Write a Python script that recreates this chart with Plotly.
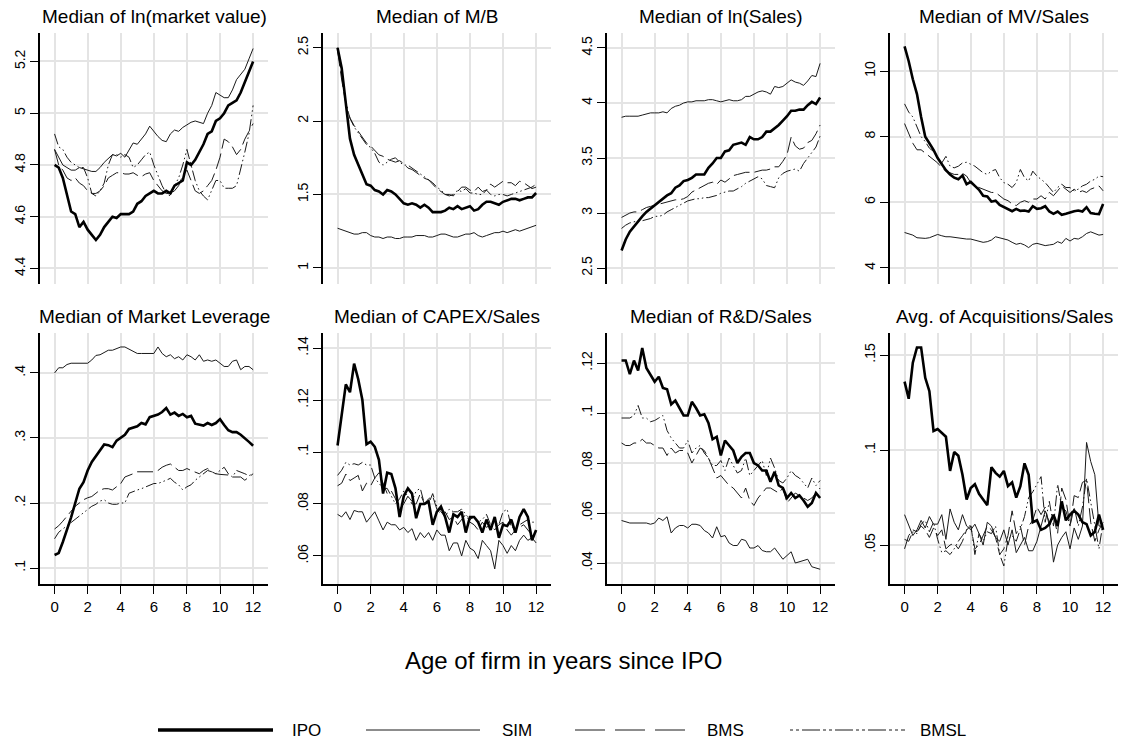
import numpy as np
import plotly.graph_objects as go

W, H = 1122, 744
FONT = "Liberation Sans, Arial, sans-serif"

ages = np.arange(0, 12.001, 0.25)
age_ticks = [0, 2, 4, 6, 8, 10, 12]
age_tick_labels = ["0", "2", "4", "6", "8", "10", "12"]
series_names = ["IPO", "SIM", "BMS", "BMSL"]

titles = ["Median of ln(market value)", "Median of M/B", "Median of ln(Sales)", "Median of MV/Sales",
          "Median of Market Leverage", "Median of CAPEX/Sales", "Median of R&D/Sales",
          "Avg. of Acquisitions/Sales"]

# ---- Panel 1: ln(market value)
mv_ipo = [4.80,4.79,4.75,4.68,4.62,4.61,4.56,4.58,4.55,4.53, 4.51,4.53,4.56,4.58,4.60,4.595,4.61,4.61,4.61,4.62,
          4.65,4.66,4.68,4.69,4.70,4.69,4.69,4.70,4.69,4.72, 4.73,4.74,4.81,4.80,4.82,4.85,4.88,4.92,4.93,4.97,
          4.98,5.00,5.03,5.04,5.05,5.08,5.12,5.16,5.20]
mv_sim = [4.86,4.83,4.80,4.79,4.78,4.78,4.79,4.785,4.78,4.775, 4.775,4.79,4.81,4.825,4.84,4.835,4.845,4.83,4.86,4.885,
          4.88,4.90,4.92,4.95,4.93,4.91,4.895,4.89,4.92,4.935, 4.93,4.945,4.955,4.965,4.97,4.965,4.96,5.00,5.03,5.08,
          5.07,5.06,5.06,5.09,5.13,5.15,5.17,5.21,5.25]
mv_bms = [4.86,4.80,4.78,4.75,4.74,4.75,4.73,4.72,4.70,4.69, 4.69,4.70,4.72,4.75,4.76,4.77,4.77,4.765,4.765,4.77,
          4.76,4.755,4.765,4.77,4.74,4.72,4.70,4.69,4.69,4.70, 4.72,4.76,4.78,4.74,4.70,4.69,4.70,4.72,4.74,4.78,
          4.83,4.90,4.89,4.87,4.84,4.86,4.90,4.93,4.96]
mv_bmsl = [4.92,4.87,4.86,4.83,4.81,4.80,4.79,4.79,4.75,4.69, 4.68,4.70,4.73,4.80,4.84,4.84,4.83,4.84,4.83,4.79,
           4.80,4.82,4.84,4.85,4.80,4.76,4.72,4.69,4.68,4.72, 4.75,4.80,4.86,4.80,4.74,4.70,4.68,4.665,4.70,4.74,
           4.74,4.71,4.71,4.71,4.72,4.78,4.85,4.92,5.03]

# ---- Panel 2: M/B
mb_ipo = [2.50,2.36,2.12,1.88,1.77,1.70,1.64,1.57,1.56,1.53, 1.52,1.50,1.53,1.52,1.50,1.47,1.44,1.43,1.44,1.43,
          1.41,1.43,1.41,1.38,1.38,1.38,1.39,1.41,1.40,1.42, 1.40,1.41,1.42,1.39,1.40,1.43,1.45,1.45,1.44,1.43,
          1.45,1.46,1.47,1.47,1.46,1.47,1.48,1.48,1.51]
mb_sim = [1.27,1.26,1.25,1.24,1.23,1.23,1.24,1.24,1.22,1.21, 1.21,1.20,1.21,1.21,1.20,1.20,1.21,1.21,1.21,1.22,
          1.22,1.22,1.21,1.21,1.22,1.23,1.23,1.22,1.21,1.21, 1.22,1.23,1.23,1.24,1.22,1.21,1.22,1.23,1.24,1.24,
          1.25,1.24,1.25,1.26,1.25,1.26,1.27,1.28,1.29]
mb_bms = [2.48,2.28,2.12,2.02,1.97,1.93,1.89,1.85,1.83,1.80, 1.77,1.76,1.74,1.73,1.72,1.73,1.71,1.68,1.67,1.65,
          1.63,1.61,1.60,1.57,1.54,1.52,1.50,1.49,1.50,1.52, 1.55,1.55,1.53,1.52,1.55,1.52,1.53,1.57,1.55,1.57,
          1.59,1.58,1.58,1.56,1.59,1.58,1.56,1.54,1.55]
mb_bmsl = [2.50,2.30,2.13,2.02,1.96,1.92,1.88,1.84,1.82,1.78, 1.72,1.70,1.72,1.74,1.75,1.72,1.70,1.70,1.68,1.66,
           1.64,1.62,1.60,1.58,1.55,1.53,1.50,1.50,1.49,1.53, 1.52,1.54,1.51,1.51,1.50,1.50,1.53,1.50,1.49,1.50,
           1.50,1.49,1.50,1.51,1.52,1.53,1.54,1.55,1.57]

# ---- Panel 3: ln(Sales)
ls_ipo = [2.66,2.76,2.83,2.88,2.93,2.97,3.01,3.04,3.07,3.10, 3.13,3.16,3.18,3.23,3.25,3.29,3.30,3.32,3.35,3.35,
          3.35,3.41,3.45,3.50,3.50,3.56,3.57,3.62,3.63,3.64, 3.62,3.69,3.67,3.67,3.69,3.74,3.74,3.77,3.80,3.84,
          3.88,3.93,3.93,3.94,3.94,3.98,4.01,3.99,4.05]
ls_sim = [3.87,3.88,3.88,3.88,3.88,3.89,3.90,3.91,3.91,3.91, 3.92,3.91,3.95,3.97,3.98,4.00,4.01,4.01,4.02,4.02,
          4.02,4.03,4.03,4.02,4.01,4.02,4.03,4.02,4.02,4.03, 4.06,4.06,4.08,4.10,4.11,4.10,4.08,4.15,4.14,4.15,
          4.18,4.21,4.19,4.18,4.16,4.20,4.25,4.24,4.36]
ls_bms = [2.96,2.98,3.00,3.01,3.01,3.03,3.05,3.06,3.07,3.08, 3.09,3.10,3.11,3.12,3.12,3.13,3.15,3.19,3.21,3.23,
          3.25,3.27,3.28,3.26,3.30,3.28,3.31,3.34,3.35,3.36, 3.37,3.37,3.37,3.38,3.39,3.39,3.40,3.42,3.42,3.47,
          3.53,3.69,3.61,3.58,3.59,3.64,3.66,3.72,3.80]
ls_bmsl = [2.86,2.89,2.91,2.92,2.93,2.93,2.94,2.95,2.97,2.97, 2.98,3.01,3.03,3.05,3.07,3.09,3.11,3.12,3.13,3.13,
           3.14,3.14,3.15,3.16,3.18,3.19,3.20,3.20,3.22,3.24, 3.27,3.29,3.31,3.33,3.31,3.25,3.24,3.23,3.32,3.36,
           3.38,3.39,3.40,3.38,3.45,3.50,3.55,3.60,3.70]

# ---- Panel 4: MV/Sales
mvs_ipo = [10.75,10.3,9.75,9.3,8.6,8.0,7.8,7.6,7.35,7.15, 6.98,6.85,6.75,6.7,6.82,6.55,6.62,6.5,6.38,6.2,
           6.18,6.02,6.05,5.92,5.85,5.78,5.73,5.8,5.74,5.75, 5.72,5.88,5.8,5.82,5.88,5.72,5.65,5.72,5.62,5.65,
           5.7,5.73,5.75,5.72,5.85,5.67,5.65,5.64,5.95]
mvs_sim = [5.08,5.05,5.0,4.92,4.9,4.9,4.92,4.98,5.02,4.98, 4.95,4.95,4.93,4.92,4.9,4.88,4.88,4.85,4.83,4.78,
           4.8,4.85,4.95,4.92,4.9,4.85,4.78,4.72,4.75,4.7, 4.62,4.72,4.75,4.72,4.68,4.7,4.72,4.8,4.75,4.9,
           4.82,4.9,4.88,4.95,5.05,5.1,5.05,5.0,5.02]
mvs_bms = [8.4,8.1,7.8,7.6,7.6,7.5,7.4,7.3,7.2,7.05, 6.95,6.9,6.85,6.85,6.88,6.8,6.6,6.5,6.45,6.4,
           6.35,6.3,6.3,6.2,6.1,6.05,5.95,5.9,6.0,6.05, 6.0,6.1,6.1,6.2,6.1,6.3,6.2,6.35,6.5,6.4,
           6.3,6.4,6.3,6.35,6.3,6.4,6.45,6.5,6.35]
mvs_bmsl = [9.0,8.75,8.6,8.3,8.0,7.85,7.65,7.55,7.35,7.2, 7.4,7.1,7.05,7.1,7.2,7.22,7.15,7.1,7.0,6.9,
            6.85,6.95,7.0,6.75,6.6,6.55,6.45,6.6,7.0,6.75, 6.65,6.95,6.8,6.7,6.6,6.45,6.3,6.45,6.55,6.45,
            6.45,6.35,6.4,6.5,6.55,6.65,6.7,6.8,6.78]

# ---- Panel 5: Market leverage
lev_ipo = [.120,.123,.140,.158,.178,.200,.222,.232,.250,.263, .272,.280,.290,.289,.286,.296,.300,.305,.314,.316,
           .318,.323,.321,.332,.334,.336,.340,.346,.336,.339, .334,.337,.332,.334,.322,.320,.319,.323,.320,.323,
           .329,.320,.312,.309,.309,.305,.300,.294,.288]
lev_sim = [.400,.408,.408,.413,.415,.415,.415,.415,.415,.420, .427,.428,.432,.435,.435,.437,.440,.440,.437,.433,
           .430,.430,.430,.430,.430,.440,.430,.425,.428,.422, .425,.420,.428,.425,.420,.428,.418,.420,.418,.420,
           .415,.410,.410,.418,.420,.405,.410,.410,.405]
lev_bms = [.160,.165,.172,.180,.188,.195,.200,.205,.208,.210, .215,.220,.222,.222,.220,.225,.230,.240,.242,.245,
           .248,.248,.248,.248,.248,.250,.255,.258,.260,.255, .250,.250,.253,.250,.247,.245,.250,.253,.248,.245,
           .244,.243,.243,.240,.240,.240,.235,.240,.245]
lev_bmsl = [.145,.155,.160,.165,.170,.175,.180,.185,.190,.195, .198,.203,.205,.200,.198,.198,.200,.200,.215,.218,
            .220,.222,.225,.228,.230,.230,.232,.235,.238,.232, .228,.220,.225,.228,.235,.240,.245,.250,.248,.245,
            .250,.255,.245,.240,.250,.248,.245,.242,.245]

# ---- Panel 6: CAPEX/Sales
cap_ipo = [.1025,.114,.126,.123,.134,.128,.120,.103,.104,.102, .097,.084,.092,.0915,.086,.075,.083,.086,.084,.0745,
           .080,.080,.081,.072,.077,.079,.075,.069,.076,.075, .077,.069,.075,.075,.073,.069,.074,.070,.075,.067,
           .072,.0715,.074,.069,.075,.078,.075,.066,.070]
cap_sim = [.076,.075,.077,.074,.0775,.077,.077,.073,.075,.077, .0735,.070,.073,.072,.072,.070,.071,.069,.0705,.066,
           .069,.067,.069,.066,.070,.068,.068,.062,.065,.065, .060,.066,.063,.062,.059,.066,.064,.062,.055,.066,
           .064,.061,.064,.062,.066,.068,.066,.067,.065]
cap_bms = [.087,.088,.0915,.089,.090,.091,.085,.088,.087,.090, .092,.088,.084,.085,.082,.078,.080,.083,.080,.080,
           .084,.080,.082,.083,.078,.076,.077,.074,.075,.072, .074,.076,.073,.072,.070,.073,.071,.072,.070,.072,
           .073,.070,.068,.070,.071,.072,.070,.068,.069]
cap_bmsl = [.091,.093,.096,.095,.0955,.095,.096,.095,.095,.090, .088,.086,.086,.083,.080,.082,.085,.083,.081,.085,
            .086,.080,.080,.084,.079,.077,.075,.078,.077,.077, .078,.076,.074,.075,.073,.074,.076,.072,.073,.072,
            .077,.078,.071,.071,.072,.073,.074,.073,.073]

# ---- Panel 7: R&D/Sales
rd_ipo = [.121,.121,.1155,.121,.117,.126,.118,.115,.1125,.1145, .110,.1095,.1035,.105,.102,.099,.099,.1045,.102,.099,
          .0995,.096,.0895,.0905,.083,.089,.087,.085,.080,.0825, .084,.084,.080,.079,.077,.077,.0725,.0765,.071,.070,
          .066,.068,.066,.067,.065,.0625,.064,.068,.066]
rd_sim = [.057,.0565,.056,.056,.056,.056,.056,.0555,.056,.058, .057,.0585,.052,.054,.055,.055,.054,.0555,.0555,.055,
          .053,.052,.050,.0545,.0505,.051,.048,.047,.047,.0495, .049,.046,.046,.047,.045,.0445,.0445,.046,.0435,.0415,
          .043,.0445,.040,.0405,.041,.0415,.0385,.038,.0375]
rd_bms = [.088,.087,.087,.088,.088,.0895,.088,.088,.087,.086, .086,.083,.086,.084,.085,.085,.084,.080,.083,.086,
          .085,.082,.078,.074,.075,.073,.071,.070,.068,.066, .070,.065,.063,.066,.068,.070,.070,.069,.068,.070,
          .064,.066,.068,.067,.066,.065,.066,.068,.070]
rd_bmsl = [.098,.098,.098,.099,.103,.098,.098,.0965,.097,.098, .099,.093,.090,.088,.086,.086,.089,.084,.086,.087,
           .084,.082,.079,.079,.081,.077,.082,.079,.076,.077, .082,.075,.077,.079,.081,.075,.082,.078,.073,.072,
           .074,.077,.075,.074,.072,.070,.074,.071,.073]

# ---- Panel 8: Acquisitions/Sales
acq_ipo = [.136,.127,.146,.154,.154,.138,.131,.110,.111,.109, .107,.089,.099,.097,.087,.074,.080,.082,.077,.074,
           .071,.091,.088,.086,.089,.081,.083,.075,.081,.093, .087,.062,.063,.058,.059,.061,.066,.060,.073,.063,
           .066,.068,.066,.062,.061,.055,.057,.066,.058]
acq_sim = [.066,.060,.055,.058,.063,.059,.065,.061,.061,.066, .053,.069,.062,.058,.066,.060,.058,.061,.056,.050,
           .062,.060,.054,.052,.058,.050,.058,.046,.050,.054, .047,.047,.052,.060,.068,.062,.041,.050,.054,.057,
           .048,.059,.053,.060,.104,.094,.087,.060,.060]
acq_bms = [.048,.055,.058,.057,.060,.058,.054,.059,.055,.058, .048,.050,.051,.048,.052,.058,.060,.048,.050,.055,
           .060,.058,.054,.045,.048,.055,.068,.056,.060,.050, .060,.063,.070,.066,.070,.060,.065,.056,.080,.074,
           .060,.076,.075,.083,.084,.062,.052,.058,.062]
acq_bmsl = [.053,.052,.057,.056,.061,.063,.057,.062,.053,.046, .047,.045,.048,.052,.055,.058,.061,.045,.056,.052,
            .057,.056,.060,.045,.039,.053,.055,.052,.058,.065, .075,.078,.082,.086,.062,.073,.060,.082,.070,.068,
            .060,.070,.060,.070,.085,.073,.060,.048,.062]

panel_data = [
    [mv_ipo, mv_sim, mv_bms, mv_bmsl],
    [mb_ipo, mb_sim, mb_bms, mb_bmsl],
    [ls_ipo, ls_sim, ls_bms, ls_bmsl],
    [mvs_ipo, mvs_sim, mvs_bms, mvs_bmsl],
    [lev_ipo, lev_sim, lev_bms, lev_bmsl],
    [cap_ipo, cap_sim, cap_bms, cap_bmsl],
    [rd_ipo, rd_sim, rd_bms, rd_bmsl],
    [acq_ipo, acq_sim, acq_bms, acq_bmsl],
]

y_tickvals = [
    [4.4, 4.6, 4.8, 5.0, 5.2],
    [1, 1.5, 2, 2.5],
    [2.5, 3, 3.5, 4, 4.5],
    [4, 6, 8, 10],
    [.1, .2, .3, .4],
    [.06, .08, .10, .12, .14],
    [.04, .06, .08, .10, .12],
    [.05, .10, .15],
]
y_ticktext = [
    ["4.4", "4.6", "4.8", "5", "5.2"],
    ["1", "1.5", "2", "2.5"],
    ["2.5", "3", "3.5", "4", "4.5"],
    ["4", "6", "8", "10"],
    [".1", ".2", ".3", ".4"],
    [".06", ".08", ".1", ".12", ".14"],
    [".04", ".06", ".08", ".1", ".12"],
    [".05", ".1", ".15"],
]
y_ranges = [
    [4.34, 5.31], [0.89, 2.60], [2.355, 4.636], [3.51, 11.16],
    [0.0754, 0.4615], [0.0492, 0.1458], [0.0316, 0.132], [0.0295, 0.1616],
]
x_range = [-0.88, 12.9]

styles = {
    "IPO": dict(color="#000000", width=2.6, dash="solid"),
    "SIM": dict(color="#1a1a1a", width=1.0, dash="solid"),
    "BMS": dict(color="#1a1a1a", width=1.0, dash="16px,5px"),
    "BMSL": dict(color="#1a1a1a", width=1.0, dash="11px,3px,1.5px,3px,1.5px,3px"),
}

col_left = [40, 323, 607, 890]
pw = 228
row_top = [33, 333]
ph = 251
grid_col = "#e4e4e4"

fig = go.Figure()
layout = dict(
    width=W, height=H, margin=dict(l=0, r=0, t=0, b=0),
    paper_bgcolor="white", plot_bgcolor="white", showlegend=False,
    font=dict(family=FONT, color="black"),
)

annotations = []
shapes = []
for i in range(8):
    r, c = divmod(i, 4)
    n = i + 1
    xa = "xaxis" if n == 1 else f"xaxis{n}"
    ya = "yaxis" if n == 1 else f"yaxis{n}"
    xref = "x" if n == 1 else f"x{n}"
    yref = "y" if n == 1 else f"y{n}"
    x0 = col_left[c] / W
    x1 = (col_left[c] + pw) / W
    y1 = 1 - row_top[r] / H
    y0 = 1 - (row_top[r] + ph) / H
    bottom = r == 1
    layout[xa] = dict(
        domain=[x0, x1], range=x_range, anchor=yref,
        tickvals=age_ticks, ticktext=age_tick_labels,
        showgrid=True, gridcolor=grid_col, gridwidth=1.5, zeroline=False,
        showline=bottom, linecolor="black", linewidth=1.5,
        ticks="outside" if bottom else "", ticklen=8, tickwidth=1.3, tickcolor="black",
        showticklabels=bottom, tickfont=dict(size=15, family=FONT, color="black"),
    )
    layout[ya] = dict(
        domain=[y0, y1], range=y_ranges[i], anchor=xref,
        tickvals=y_tickvals[i], ticktext=y_ticktext[i], tickangle=-90,
        showgrid=True, gridcolor=grid_col, gridwidth=1.5, zeroline=False,
        showline=True, linecolor="black", linewidth=1.5,
        ticks="outside", ticklen=8, tickwidth=1.3, tickcolor="black",
        tickfont=dict(size=14, family=FONT, color="black"),
    )
    # draw thin series first, IPO last (on top)
    for k in [3, 2, 1, 0]:
        name = series_names[k]
        fig.add_trace(go.Scatter(
            x=ages, y=panel_data[i][k], mode="lines", name=name,
            line=styles[name], xaxis=xref, yaxis=yref, showlegend=False,
        ))
    annotations.append(dict(
        text=titles[i], x=(x0 + x1) / 2, y=1 - (row_top[r] - 16) / H,
        xref="paper", yref="paper", xanchor="center", yanchor="middle",
        showarrow=False, font=dict(size=19, family=FONT, color="black"),
    ))

# x-axis title
annotations.append(dict(
    text="Age of firm in years since IPO", x=563 / W, y=1 - 660 / H,
    xref="paper", yref="paper", xanchor="center", yanchor="middle",
    showarrow=False, font=dict(size=24, family=FONT, color="black"),
))

# legend (drawn manually to reproduce long line samples)
leg_y = 1 - 730 / H
leg_items = [("IPO", 158, 273, 290), ("SIM", 366, 480, 500), ("BMS", 575, 686, 705), ("BMSL", 790, 905, 918)]
for name, lx0, lx1, tx in leg_items:
    st = styles[name]
    dash = st["dash"]
    if name == "BMS":
        dash = "30px,10px"
    if name == "BMSL":
        dash = "3px,3px,3px,3px,18px,3px"
    shapes.append(dict(type="line", xref="paper", yref="paper", x0=lx0 / W, x1=lx1 / W, y0=leg_y, y1=leg_y,
                       line=dict(color=st["color"], width=st["width"] * (1.3 if name == "IPO" else 1.0), dash=dash)))
    annotations.append(dict(
        text=name, x=tx / W, y=leg_y, xref="paper", yref="paper", xanchor="left", yanchor="middle",
        showarrow=False, font=dict(size=17, family=FONT, color="black"),
    ))

layout["annotations"] = annotations
layout["shapes"] = shapes
fig.update_layout(**layout)
fig.write_html("out.html")
